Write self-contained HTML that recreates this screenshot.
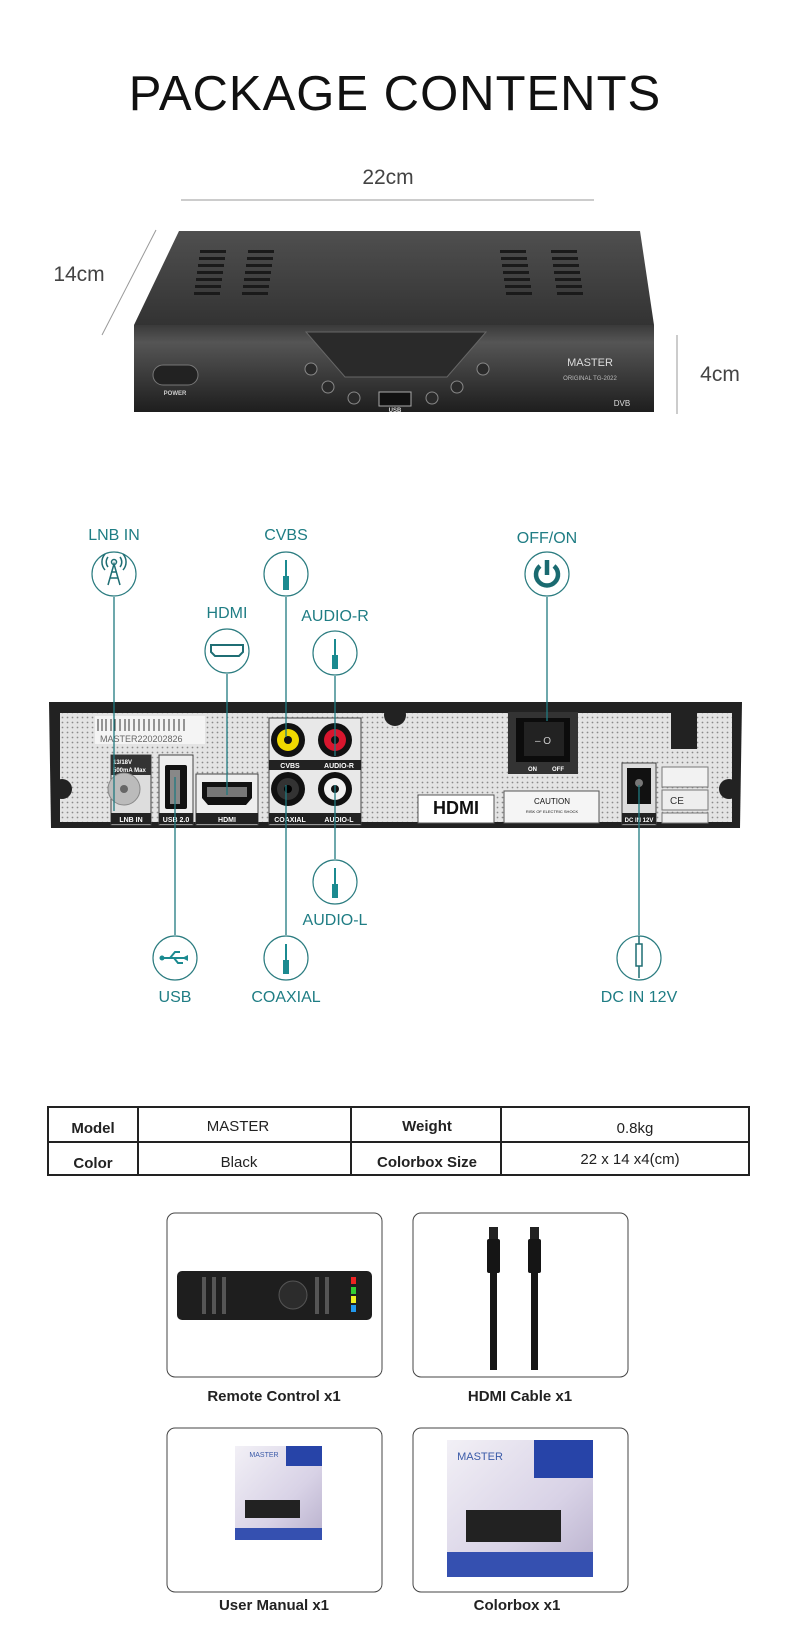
<!DOCTYPE html>
<html><head><meta charset="utf-8"><style>
html,body{margin:0;padding:0;background:#fff;}
body{width:790px;height:1648px;position:relative;overflow:hidden;font-family:"Liberation Sans",sans-serif;}
svg{position:absolute;left:0;top:0;}
</style></head><body>
<svg width="790" height="1648" viewBox="0 0 790 1648" xmlns="http://www.w3.org/2000/svg">
<defs>
<linearGradient id="top" x1="0" y1="0" x2="0" y2="1"><stop offset="0" stop-color="#4f4f4f"/><stop offset="1" stop-color="#333"/></linearGradient>
<linearGradient id="front" x1="0" y1="0" x2="0" y2="1"><stop offset="0" stop-color="#3a3a3a"/><stop offset="0.2" stop-color="#555"/><stop offset="1" stop-color="#1e1e1e"/></linearGradient>
<pattern id="dots" width="5" height="5" patternUnits="userSpaceOnUse"><rect width="5" height="5" fill="#e4e4e4"/><circle cx="2.5" cy="2.5" r="0.9" fill="#8a8a8a"/></pattern>
<linearGradient id="box" x1="0" y1="0" x2="1" y2="1"><stop offset="0" stop-color="#f2f0f6"/><stop offset="0.6" stop-color="#d8d2e6"/><stop offset="1" stop-color="#b8b0cc"/></linearGradient>
</defs>

<text x="395" y="110" text-anchor="middle" font-size="49" fill="#111" letter-spacing="1">PACKAGE CONTENTS</text>
<text x="388" y="184" text-anchor="middle" font-size="21" fill="#444">22cm</text>
<line x1="181" y1="200" x2="594" y2="200" stroke="#999" stroke-width="1"/>
<text x="79" y="281" text-anchor="middle" font-size="21" fill="#444">14cm</text>
<line x1="156" y1="230" x2="102" y2="335" stroke="#999" stroke-width="1"/>
<text x="720" y="381" text-anchor="middle" font-size="21" fill="#444">4cm</text>
<line x1="677" y1="335" x2="677" y2="414" stroke="#999" stroke-width="1"/>

<polygon points="179,231 640,231 654,325 134,325" fill="url(#top)"/>
<g fill="#1a1a1a">
<rect x="200" y="250" width="26" height="3"/><rect x="248" y="250" width="26" height="3"/>
<rect x="199" y="257" width="26" height="3"/><rect x="247" y="257" width="26" height="3"/>
<rect x="198" y="264" width="26" height="3"/><rect x="246" y="264" width="26" height="3"/>
<rect x="197" y="271" width="26" height="3"/><rect x="245" y="271" width="26" height="3"/>
<rect x="196" y="278" width="26" height="3"/><rect x="244" y="278" width="26" height="3"/>
<rect x="195" y="285" width="26" height="3"/><rect x="243" y="285" width="26" height="3"/>
<rect x="194" y="292" width="26" height="3"/><rect x="242" y="292" width="26" height="3"/>
<rect x="500" y="250" width="26" height="3"/><rect x="551" y="250" width="26" height="3"/>
<rect x="501" y="257" width="26" height="3"/><rect x="552" y="257" width="26" height="3"/>
<rect x="502" y="264" width="26" height="3"/><rect x="553" y="264" width="26" height="3"/>
<rect x="503" y="271" width="26" height="3"/><rect x="554" y="271" width="26" height="3"/>
<rect x="504" y="278" width="26" height="3"/><rect x="555" y="278" width="26" height="3"/>
<rect x="505" y="285" width="26" height="3"/><rect x="556" y="285" width="26" height="3"/>
<rect x="506" y="292" width="26" height="3"/><rect x="557" y="292" width="26" height="3"/>
</g>
<rect x="134" y="325" width="520" height="87" fill="url(#front)"/>
<polygon points="306,332 486,332 447,377 345,377" fill="#2a2a2a" stroke="#666" stroke-width="1"/>
<rect x="153" y="365" width="45" height="20" rx="10" fill="#222" stroke="#777"/>
<text x="175" y="395" text-anchor="middle" font-size="6" fill="#ccc" font-weight="bold">POWER</text>
<g fill="#2a2a2a" stroke="#888" stroke-width="1">
<circle cx="311" cy="369" r="6"/><circle cx="328" cy="387" r="6"/><circle cx="354" cy="398" r="6"/>
<circle cx="432" cy="398" r="6"/><circle cx="457" cy="387" r="6"/><circle cx="483" cy="369" r="6"/>
</g>
<rect x="379" y="392" width="32" height="14" fill="#111" stroke="#aaa"/>
<text x="395" y="412" text-anchor="middle" font-size="6" fill="#ddd" font-weight="bold">USB</text>
<text x="590" y="366" text-anchor="middle" font-size="11" fill="#ddd">MASTER</text>
<text x="590" y="380" text-anchor="middle" font-size="6" fill="#bbb">ORIGINAL TG-2022</text>
<text x="622" y="406" text-anchor="middle" font-size="8" fill="#ddd">DVB</text>

<polygon points="49,702 742,702 740,828 51,828" fill="#222"/>
<rect x="60" y="713" width="672" height="109" fill="url(#dots)"/>
<rect x="95" y="716" width="110" height="28" fill="#f4f4f4"/>
<g stroke="#333" stroke-width="1">
<line x1="98" y1="719" x2="98" y2="731"/><line x1="102" y1="719" x2="102" y2="731"/><line x1="106" y1="719" x2="106" y2="731"/><line x1="111" y1="719" x2="111" y2="731"/><line x1="115" y1="719" x2="115" y2="731"/><line x1="120" y1="719" x2="120" y2="731"/><line x1="125" y1="719" x2="125" y2="731"/><line x1="129" y1="719" x2="129" y2="731"/><line x1="134" y1="719" x2="134" y2="731"/><line x1="139" y1="719" x2="139" y2="731"/><line x1="144" y1="719" x2="144" y2="731"/><line x1="149" y1="719" x2="149" y2="731"/><line x1="154" y1="719" x2="154" y2="731"/><line x1="159" y1="719" x2="159" y2="731"/><line x1="164" y1="719" x2="164" y2="731"/><line x1="169" y1="719" x2="169" y2="731"/><line x1="174" y1="719" x2="174" y2="731"/><line x1="179" y1="719" x2="179" y2="731"/><line x1="184" y1="719" x2="184" y2="731"/>
</g>
<text x="100" y="742" font-size="9" fill="#666">MASTER220202826</text>
<circle cx="395" cy="715" r="11" fill="#222"/>
<circle cx="62" cy="789" r="10" fill="#222"/><circle cx="729" cy="789" r="10" fill="#222"/>
<rect x="111" y="755" width="40" height="70" fill="#ddd" stroke="#444"/>
<rect x="111" y="755" width="40" height="20" fill="#333"/>
<text x="113" y="764" font-size="6" fill="#fff" font-weight="bold">13/18V</text>
<text x="113" y="772" font-size="6" fill="#fff" font-weight="bold">500mA Max</text>
<circle cx="124" cy="789" r="16" fill="#bbb" stroke="#888"/><circle cx="124" cy="789" r="4" fill="#666"/>
<rect x="111" y="813" width="40" height="11" fill="#222"/><text x="131" y="822" text-anchor="middle" font-size="7" fill="#fff" font-weight="bold">LNB IN</text>
<rect x="159" y="755" width="34" height="70" fill="#eee" stroke="#444"/>
<rect x="165" y="765" width="22" height="44" rx="2" fill="#111"/><rect x="170" y="770" width="10" height="34" fill="#888"/>
<rect x="159" y="813" width="34" height="11" fill="#222"/><text x="176" y="822" text-anchor="middle" font-size="7" fill="#fff" font-weight="bold">USB 2.0</text>
<rect x="196" y="774" width="62" height="51" fill="#eee" stroke="#444"/>
<path d="M202 782h50v16l-6 7h-38l-6-7z" fill="#111"/><rect x="207" y="787" width="40" height="10" fill="#777"/>
<rect x="196" y="813" width="62" height="11" fill="#222"/><text x="227" y="822" text-anchor="middle" font-size="7" fill="#fff" font-weight="bold">HDMI</text>
<rect x="269" y="718" width="92" height="107" fill="#e8e8e8" stroke="#444"/>
<circle cx="288" cy="740" r="17" fill="#111"/><circle cx="288" cy="740" r="11" fill="#f0d800"/><circle cx="288" cy="740" r="4" fill="#111"/>
<circle cx="335" cy="740" r="17" fill="#111"/><circle cx="335" cy="740" r="11" fill="#d8162e"/><circle cx="335" cy="740" r="4" fill="#111"/>
<rect x="269" y="760" width="92" height="10" fill="#222"/>
<text x="290" y="768" text-anchor="middle" font-size="7" fill="#fff" font-weight="bold">CVBS</text>
<text x="339" y="768" text-anchor="middle" font-size="7" fill="#fff" font-weight="bold">AUDIO-R</text>
<circle cx="288" cy="789" r="17" fill="#111"/><circle cx="288" cy="789" r="11" fill="#333"/><circle cx="288" cy="789" r="4" fill="#000"/>
<circle cx="335" cy="789" r="17" fill="#111"/><circle cx="335" cy="789" r="11" fill="#f2f2f2"/><circle cx="335" cy="789" r="4" fill="#111"/>
<rect x="269" y="813" width="92" height="11" fill="#222"/>
<text x="290" y="822" text-anchor="middle" font-size="7" fill="#fff" font-weight="bold">COAXIAL</text>
<text x="339" y="822" text-anchor="middle" font-size="7" fill="#fff" font-weight="bold">AUDIO-L</text>
<rect x="418" y="795" width="76" height="28" fill="#fff" stroke="#555"/>
<text x="456" y="814" text-anchor="middle" font-size="18" font-weight="bold" fill="#111">HDMI</text>
<rect x="504" y="791" width="95" height="32" fill="#f5f5f5" stroke="#555"/>
<text x="552" y="804" text-anchor="middle" font-size="8" fill="#111">CAUTION</text>
<text x="552" y="813" text-anchor="middle" font-size="4" fill="#111">RISK OF ELECTRIC SHOCK</text>
<rect x="508" y="712" width="70" height="62" fill="#333"/>
<rect x="516" y="718" width="54" height="44" fill="#0c0c0c"/>
<rect x="524" y="722" width="40" height="34" fill="#222"/>
<text x="543" y="744" text-anchor="middle" font-size="10" fill="#ccc">– O</text>
<text x="528" y="771" font-size="6" fill="#fff" font-weight="bold">ON</text><text x="552" y="771" font-size="6" fill="#fff" font-weight="bold">OFF</text>
<rect x="671" y="709" width="26" height="40" fill="#222"/>
<rect x="622" y="763" width="34" height="62" fill="#ddd" stroke="#444"/>
<rect x="627" y="768" width="24" height="36" fill="#111"/><circle cx="639" cy="783" r="4" fill="#777"/>
<rect x="622" y="813" width="34" height="11" fill="#222"/><text x="639" y="822" text-anchor="middle" font-size="6" fill="#fff" font-weight="bold">DC IN 12V</text>
<rect x="662" y="767" width="46" height="20" fill="#f2f2f2" stroke="#777"/>
<rect x="662" y="790" width="46" height="20" fill="#eee" stroke="#777"/>
<text x="670" y="804" font-size="10" fill="#333">CE</text>
<rect x="662" y="813" width="46" height="10" fill="#eee" stroke="#777"/>

<g stroke="#1f7a80" stroke-width="1.3" fill="none">
<line x1="114" y1="597" x2="114" y2="811"/>
<line x1="286" y1="597" x2="286" y2="737"/>
<line x1="227" y1="674" x2="227" y2="795"/>
<line x1="335" y1="676" x2="335" y2="756"/>
<line x1="547" y1="597" x2="547" y2="721"/>
<line x1="175" y1="777" x2="175" y2="935"/>
<line x1="286" y1="785" x2="286" y2="935"/>
<line x1="335" y1="785" x2="335" y2="859"/>
<line x1="639" y1="785" x2="639" y2="935"/>
</g>
<g stroke="#2b7c80" stroke-width="1.2" fill="#fff">
<circle cx="114" cy="574" r="22"/><circle cx="286" cy="574" r="22"/><circle cx="227" cy="651" r="22"/>
<circle cx="335" cy="653" r="22"/><circle cx="547" cy="574" r="22"/>
<circle cx="175" cy="958" r="22"/><circle cx="286" cy="958" r="22"/><circle cx="335" cy="882" r="22"/><circle cx="639" cy="958" r="22"/>
</g>
<g fill="#1b8a90" stroke="none">
<rect x="283" y="576" width="6" height="14"/><rect x="285" y="560" width="2" height="16"/>
<rect x="332" y="655" width="6" height="14"/><rect x="334" y="639" width="2" height="16"/>
<rect x="332" y="884" width="6" height="14"/><rect x="334" y="868" width="2" height="16"/>
<rect x="283" y="960" width="6" height="14"/><rect x="285" y="944" width="2" height="16"/>
</g>
<g stroke="#1f6e74" stroke-width="1.5" fill="none">
<path d="M108 585 L114 564 L120 585 M110 578h8 M111 572h6"/><circle cx="114" cy="562" r="2.5"/>
<path d="M108 557a8 8 0 0 0 0 10 M120 557a8 8 0 0 1 0 10 M105 554a12 12 0 0 0 0 16 M123 554a12 12 0 0 1 0 16"/>
<path d="M211 645h32v7l-4 4h-24l-4-4z" stroke-width="2"/>
<path d="M162 958h24 M170 958l5-6h5 M174 958l4 5h5" stroke="#1b8a90" stroke-width="2"/>
<path d="M636 944h6v22h-6z M639 936v8 M639 966v12"/>
</g>
<path d="M540 566a11 11 0 1 0 14 0" stroke="#1a6a70" stroke-width="4.5" fill="none"/>
<line x1="547" y1="560" x2="547" y2="575" stroke="#1a6a70" stroke-width="4.5"/>
<polygon points="182,958 188,955 188,961" fill="#1b8a90"/><circle cx="162" cy="958" r="2.5" fill="#1b8a90"/>

<g fill="#1f7d84" font-size="16" text-anchor="middle">
<text x="114" y="540">LNB IN</text><text x="286" y="540">CVBS</text><text x="227" y="618">HDMI</text>
<text x="335" y="621">AUDIO-R</text><text x="547" y="543">OFF/ON</text><text x="335" y="925">AUDIO-L</text>
<text x="175" y="1002">USB</text><text x="286" y="1002">COAXIAL</text><text x="639" y="1002">DC IN 12V</text>
</g>

<g stroke="#222" stroke-width="2" fill="none">
<rect x="48" y="1107" width="701" height="68"/>
<line x1="48" y1="1142" x2="749" y2="1142"/>
<line x1="138" y1="1107" x2="138" y2="1175"/><line x1="351" y1="1107" x2="351" y2="1175"/><line x1="501" y1="1107" x2="501" y2="1175"/>
</g>
<g font-size="15" text-anchor="middle" fill="#222">
<text x="93" y="1133" font-weight="bold">Model</text><text x="238" y="1131">MASTER</text>
<text x="427" y="1131" font-weight="bold">Weight</text><text x="635" y="1133">0.8kg</text>
<text x="93" y="1168" font-weight="bold">Color</text><text x="239" y="1167">Black</text>
<text x="427" y="1167" font-weight="bold">Colorbox Size</text><text x="630" y="1164">22 x 14 x4(cm)</text>
</g>

<g stroke="#444" stroke-width="1" fill="#fff">
<rect x="167" y="1213" width="215" height="164" rx="8"/><rect x="413" y="1213" width="215" height="164" rx="8"/>
<rect x="167" y="1428" width="215" height="164" rx="8"/><rect x="413" y="1428" width="215" height="164" rx="8"/>
</g>
<rect x="177" y="1271" width="195" height="49" rx="5" fill="#1e1e1e"/>
<g fill="#555"><rect x="202" y="1277" width="4" height="37"/><rect x="212" y="1277" width="4" height="37"/><rect x="222" y="1277" width="4" height="37"/><rect x="315" y="1277" width="4" height="37"/><rect x="325" y="1277" width="4" height="37"/></g>
<circle cx="293" cy="1295" r="14" fill="#2c2c2c" stroke="#555"/>
<rect x="351" y="1277" width="5" height="7" fill="#e22"/><rect x="351" y="1287" width="5" height="7" fill="#3c3"/><rect x="351" y="1296" width="5" height="7" fill="#ee2"/><rect x="351" y="1305" width="5" height="7" fill="#29e"/>
<rect x="489" y="1227" width="9" height="12" fill="#222"/><rect x="530" y="1227" width="9" height="12" fill="#222"/>
<rect x="487" y="1239" width="13" height="34" rx="2" fill="#151515"/><rect x="528" y="1239" width="13" height="34" rx="2" fill="#151515"/>
<rect x="490" y="1273" width="7" height="97" fill="#151515"/><rect x="531" y="1273" width="7" height="97" fill="#151515"/>
<rect x="235" y="1446" width="87" height="94" fill="url(#box)"/>
<rect x="286" y="1446" width="36" height="20" fill="#2744a8"/>
<rect x="245" y="1500" width="55" height="18" fill="#222"/>
<rect x="235" y="1528" width="87" height="12" fill="#3550b0"/>
<rect x="447" y="1440" width="146" height="137" fill="url(#box)"/>
<rect x="534" y="1440" width="59" height="38" fill="#2744a8"/>
<rect x="466" y="1510" width="95" height="32" fill="#222"/>
<rect x="447" y="1552" width="146" height="25" fill="#3550b0"/>
<text x="480" y="1460" text-anchor="middle" font-size="11" fill="#3a5aa8">MASTER</text>
<text x="264" y="1457" text-anchor="middle" font-size="7" fill="#3a5aa8">MASTER</text>
<g font-size="15" font-weight="bold" text-anchor="middle" fill="#222">
<text x="274" y="1401">Remote Control x1</text><text x="520" y="1401">HDMI Cable x1</text>
<text x="274" y="1610">User Manual x1</text><text x="517" y="1610">Colorbox x1</text>
</g>
</svg>
</body></html>
